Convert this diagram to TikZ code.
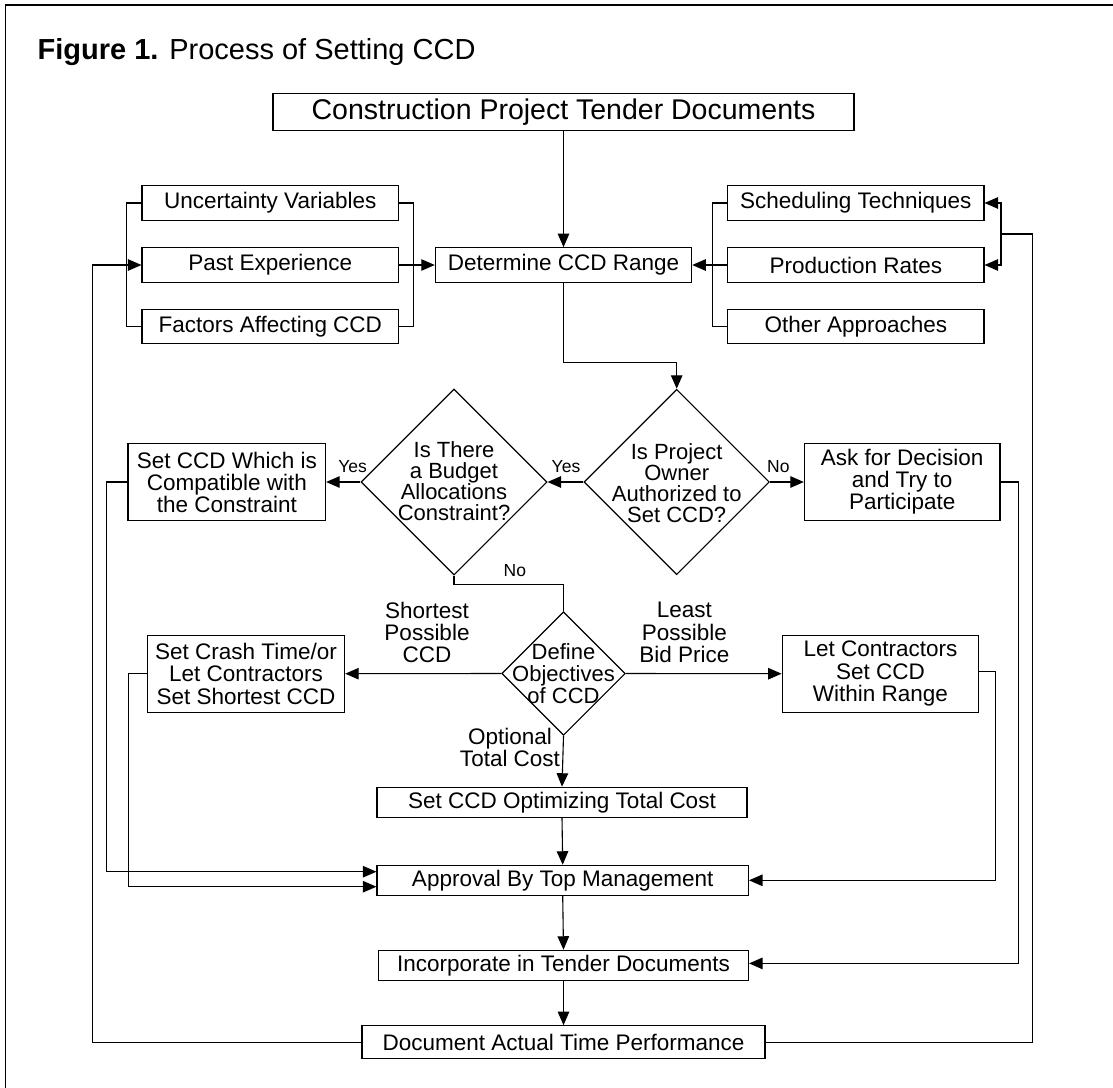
\documentclass[tikz,border=0pt]{standalone}
\usepackage{fontspec}
\setmainfont{Liberation Sans}
\usetikzlibrary{arrows.meta,shapes.geometric}
\begin{document}
\begin{tikzpicture}[x=1pt,y=-1pt,
  font=\fontsize{22.5}{22.5}\selectfont,
  box/.style={draw,line width=1.1pt,inner sep=0pt,align=center},
  dia/.style={draw,line width=1.1pt,diamond,inner sep=0pt,aspect=1},
  ln/.style={line width=1.1pt},
  arr/.style={line width=1.1pt,-{Triangle[length=13.5pt,width=11.5pt]}},
  lbl/.style={align=center,inner sep=0pt},
  small/.style={font=\fontsize{17.5}{17.5}\selectfont,inner sep=0pt}]
\useasboundingbox (0,0) rectangle (1113,1087);
\draw[line width=1.3pt] (5.4,1095) -- (5.4,5) -- (1120,5);
\node[anchor=base west,inner sep=0pt,font=\fontsize{29}{29}\selectfont] (title) at (37.5,59.5) {\bfseries Figure 1.\mdseries{} Process of Setting CCD};
% boxes
\node[box,minimum width=581,minimum height=37,font=\fontsize{28.5}{28.5}\selectfont] (top) at (563.5,112.3) {Construction Project Tender Documents};
\node[box,minimum width=256.6,minimum height=34.3] (unc) at (270.3,203) {Uncertainty Variables};
\node[box,minimum width=256.6,minimum height=34.3] (past) at (270.3,265) {Past Experience};
\node[box,minimum width=256.6,minimum height=34.3] (fact) at (270.3,326.7) {Factors Affecting CCD};
\node[box,minimum width=256.4,minimum height=34.6] (det) at (563.5,265) {Determine CCD Range};
\node[box,minimum width=256.4,minimum height=34.3] (sched) at (855.8,203) {Scheduling Techniques};
\node[box,minimum width=256.4,minimum height=34.3] (prod) at (855.8,265) {Production Rates};
\node[box,minimum width=256.4,minimum height=34.3] (other) at (855.8,326.5) {Other Approaches};
% diamonds
\node[dia,minimum width=186,minimum height=186] (d1) at (454,482) {};
\node[lbl,font=\fontsize{22}{21}\selectfont] at (454,481) {Is There\\a Budget\\Allocations\\Constraint?};
\node[dia,minimum width=185.4,minimum height=185.4] (d2) at (676.7,482) {};
\node[lbl,font=\fontsize{22}{20.8}\selectfont] at (676.7,483) {Is Project\\Owner\\Authorized to\\Set CCD?};
\node[box,minimum width=197.6,minimum height=77.4,font=\fontsize{22.5}{22}\selectfont] (setc) at (226.8,482) {Set CCD Which is\\Compatible with\\the Constraint};
\node[box,minimum width=195.6,minimum height=77.4,font=\fontsize{22.5}{22}\selectfont] (ask) at (902.2,482) {Ask for Decision\\and Try to\\Participate};
\node[dia,minimum width=123.5,minimum height=123.5] (d3) at (563.5,673.5) {};
\node[lbl,font=\fontsize{22}{21.7}\selectfont] at (563.5,673.5) {Define\\Objectives\\of CCD};
\node[box,minimum width=197.3,minimum height=77.3,font=\fontsize{22.5}{22.5}\selectfont] (crash) at (246,673.7) {Set Crash Time/or\\Let Contractors\\Set Shortest CCD};
\node[box,minimum width=196.7,minimum height=77.3,font=\fontsize{22.5}{22.5}\selectfont] (letc) at (880.5,673.7) {Let Contractors\\Set CCD\\Within Range};
\node[box,minimum width=370,minimum height=30] (opt) at (562,802.3) {Set CCD Optimizing Total Cost};
\node[box,minimum width=371.5,minimum height=30] (appr) at (562.7,880.3) {Approval By Top Management};
\node[box,minimum width=370,minimum height=30.2] (inc) at (563.5,965.4) {Incorporate in Tender Documents};
\node[box,minimum width=403,minimum height=33] (doc) at (563.5,1042.2) {Document Actual Time Performance};
% labels
\node[small] (yes1) at (352.6,466.7) {Yes};
\node[small] (yes2) at (566,466.7) {Yes};
\node[small] (no1) at (778.3,466.5) {No};
\node[small] (no2) at (514.8,571) {No};
\node[lbl,font=\fontsize{22.5}{22.3}\selectfont] (lshort) at (427,632.5) {Shortest\\Possible\\CCD};
\node[lbl,font=\fontsize{22.5}{22.3}\selectfont] (lleast) at (684.4,632.5) {Least\\Possible\\Bid Price};
\node[lbl,font=\fontsize{22.5}{21.6}\selectfont] (lopt) at (510,747.5) {Optional\\Total Cost};
% connectors
\draw[arr] (top.south) -- (det.north);
\draw[ln] (unc.west) -- ++(-14.8,0) |- (fact.west);
\draw[ln] (unc.east) -- ++(14,0) |- (fact.east);
\draw[arr] (past.east) -- (det.west);
\draw[ln] (sched.west) -- ++(-14.4,0) |- (other.west);
\draw[arr] (prod.west) -- (det.east);
\draw[arr] (det.south) -- ++(0,80) -| (d2.north);
\draw[arr] (d2.west) -- (d1.east);
\draw[arr] (d1.west) -- (setc.east);
\draw[arr] (d2.east) -- (ask.west);
\draw[ln] (d1.south) -- ++(0,9) -| (d3.north);
\draw[arr] (d3.west) -- (crash.east);
\draw[arr] (d3.east) -- (letc.east -| letc.west);
\draw[arr] (d3.south) -- (opt.north);
\draw[arr] (opt.south) -- (appr.north);
\draw[arr] (appr.south) -- (inc.north);
\draw[arr] (inc.south) -- (doc.north);
\draw[arr] (setc.west) -- ++(-21,0) |- ([yshift=8.6pt]appr.west);
\draw[arr] (crash.west) -- ++(-18.6,0) |- ([yshift=-6.4pt]appr.west);
\draw[arr] ([yshift=2pt]letc.east) -- ++(16,0) |- (appr.east);
\draw[arr] (ask.east) -- ++(18,0) |- ([yshift=2pt]inc.east);
\coordinate (lfb) at (92.3,0);
\draw[arr] (doc.west) -| (lfb |- past.west) -- (past.west);
\coordinate (rfb) at (1032.7,234);
\coordinate (rj) at (1001,234);
\draw[ln] (doc.east) -| (rfb) -- (rj);
\draw[arr] (rj) |- (sched.east);
\draw[arr] (rj) |- (prod.east);
\end{tikzpicture}
\end{document}
